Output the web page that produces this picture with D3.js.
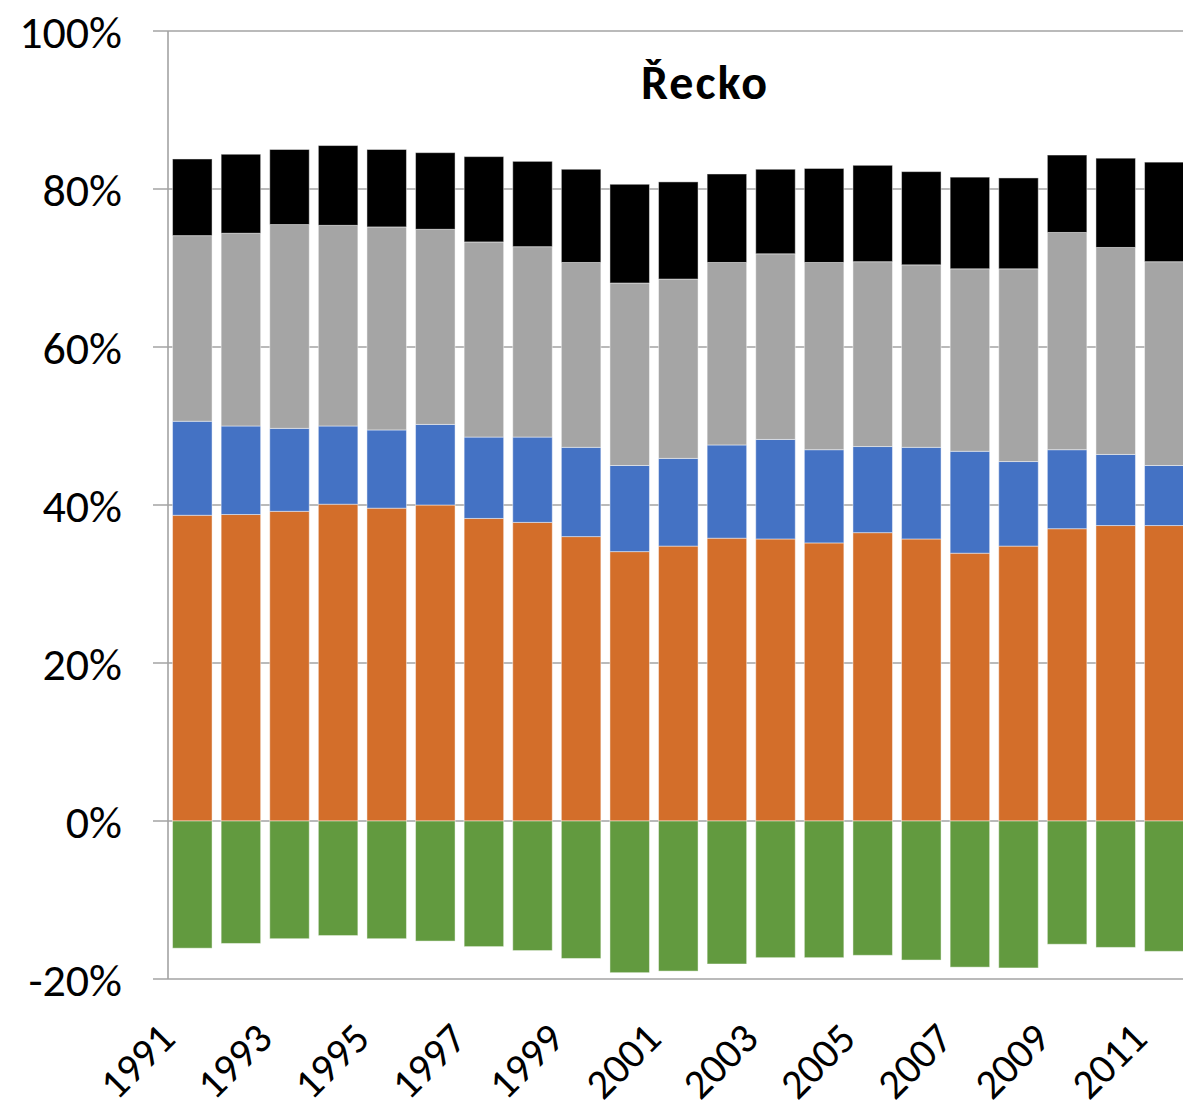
<!DOCTYPE html>
<html>
<head>
<meta charset="utf-8">
<script src="https://cdn.jsdelivr.net/npm/d3@7"></script>
<style>
  html, body { margin: 0; padding: 0; background: #fff; }
  svg { display: block; font-family: Carlito, Lato, sans-serif; }
</style>
</head>
<body>
<svg id="chart" width="1183" height="1112"></svg>
<script>
// Years on the category axis
const years = [1991,1992,1993,1994,1995,1996,1997,1998,1999,2000,2001,2002,2003,2004,2005,2006,2007,2008,2009,2010,2011];

// Component shares (%) per year, stacked bottom to top; the last one is negative
const seriesOrange = [38.7,38.8,39.2,40.1,39.6,40.0,38.3,37.8,36.0,34.1,34.8,35.8,35.7,35.2,36.5,35.7,33.9,34.8,37.0,37.4,37.4];
const seriesBlue   = [11.9,11.2,10.5,9.9,9.9,10.2,10.3,10.8,11.3,10.9,11.1,11.8,12.6,11.8,10.9,11.6,12.9,10.7,10.0,9.0,7.6];
const seriesGray   = [23.5,24.4,25.8,25.4,25.7,24.7,24.7,24.1,23.4,23.1,22.7,23.1,23.5,23.7,23.4,23.1,23.1,24.4,27.5,26.2,25.8];
const seriesBlack  = [9.7,10.0,9.5,10.1,9.8,9.7,10.8,10.8,11.8,12.5,12.3,11.2,10.7,11.9,12.2,11.8,11.6,11.5,9.8,11.3,12.6];
const seriesGreen  = [-16.1,-15.5,-14.9,-14.5,-14.9,-15.2,-15.9,-16.4,-17.4,-19.2,-19.0,-18.1,-17.3,-17.3,-17.0,-17.6,-18.5,-18.6,-15.6,-16.0,-16.5];

// Axis ticks
const yTicks = [-20, 0, 20, 40, 60, 80, 100];
const xTickYears = [1991,1993,1995,1997,1999,2001,2003,2005,2007,2009,2011];

const title = "Řecko";

const keys = ["orange", "blue", "gray", "black", "green"];
const colors = { orange: "#D36E2A", blue: "#4472C4", gray: "#A5A5A5", black: "#000000", green: "#629A3F" };

const rows = years.map((y, i) => ({
  year: y,
  orange: seriesOrange[i],
  blue: seriesBlue[i],
  gray: seriesGray[i],
  black: seriesBlack[i],
  green: seriesGreen[i]
}));

const svg = d3.select("#chart");

const plotLeft = 168;
const step = 48.6;
const x = d3.scaleBand()
  .domain(years)
  .range([plotLeft, plotLeft + step * years.length])
  .paddingInner(0.187)
  .paddingOuter(0.0935);

const y = d3.scaleLinear().domain([-20, 100]).range([979, 31]);

// Horizontal gridlines (extend left past the axis as tick marks)
const grid = svg.append("g");
grid.selectAll("line")
  .data(yTicks)
  .join("line")
  .attr("x1", 153)
  .attr("x2", 1183)
  .attr("y1", d => y(d))
  .attr("y2", d => y(d))
  .attr("stroke", "#a3a3a3")
  .attr("stroke-width", 1.4);

// Stacked bars
const stack = d3.stack().keys(keys).offset(d3.stackOffsetDiverging);
const layers = stack(rows);

svg.append("g")
  .selectAll("g")
  .data(layers)
  .join("g")
  .attr("fill", d => colors[d.key])
  .selectAll("rect")
  .data(d => d)
  .join("rect")
  .attr("x", d => x(d.data.year))
  .attr("width", x.bandwidth())
  .attr("y", d => y(Math.max(d[0], d[1])))
  .attr("height", d => Math.abs(y(d[0]) - y(d[1])))
  .attr("stroke", "#ffffff")
  .attr("stroke-opacity", 0.45)
  .attr("stroke-width", 1);

// Vertical axis line
svg.append("line")
  .attr("x1", plotLeft).attr("x2", plotLeft)
  .attr("y1", y(100)).attr("y2", y(-20))
  .attr("stroke", "#a3a3a3")
  .attr("stroke-width", 1.6);

// Y-axis labels
svg.append("g")
  .selectAll("text")
  .data(yTicks)
  .join("text")
  .attr("x", 122)
  .attr("y", d => y(d))
  .attr("dy", "0.36em")
  .attr("text-anchor", "end")
  .attr("font-size", 46)
  .attr("fill", "#000")
  .text(d => d + "%");

// X-axis labels, rotated
svg.append("g")
  .selectAll("text")
  .data(xTickYears)
  .join("text")
  .attr("transform", d => `translate(${x(d) + x.bandwidth() / 2 - 15},${y(-20) + 62}) rotate(-45)`)
  .attr("text-anchor", "end")
  .attr("font-size", 42)
  .attr("fill", "#000")
  .text(d => d);

// Title
svg.append("text")
  .attr("x", 705)
  .attr("y", 99)
  .attr("text-anchor", "middle")
  .attr("font-size", 48)
  .attr("font-weight", "bold")
  .attr("letter-spacing", 2)
  .attr("fill", "#000")
  .text(title);
</script>
</body>
</html>
